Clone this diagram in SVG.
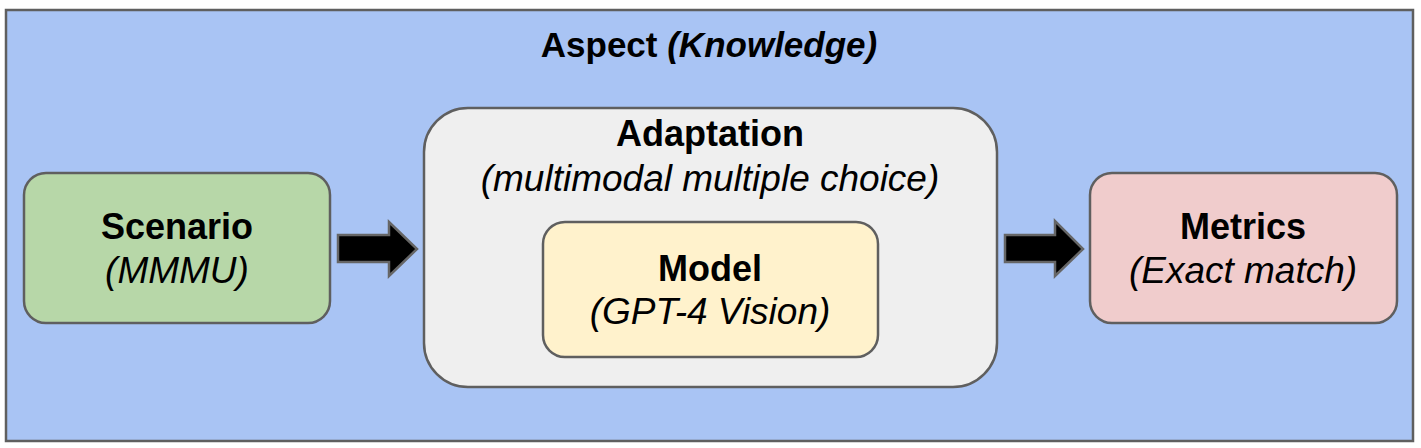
<svg xmlns="http://www.w3.org/2000/svg" width="1421" height="448" viewBox="0 0 1421 448">
<style>
.box{stroke:#5f5f5f;stroke-width:2.5}
.t{font-family:"Liberation Sans",Arial,sans-serif;fill:#000;text-anchor:middle}
.b{font-weight:bold;font-size:36px}
.i{font-style:italic;font-size:37px}
.arrow{fill:#000;stroke:#666;stroke-width:2.5;stroke-linejoin:miter}
</style>
<rect width="1421" height="448" fill="#fff"/>
<g id="aspect">
<rect class="box" x="6" y="10" width="1407" height="431" fill="#a9c4f4"/>
<text class="t" x="709" y="57" font-weight="bold" font-size="35">Aspect <tspan font-style="italic">(Knowledge)</tspan></text>
</g>
<g id="scenario">
<rect class="box" x="24" y="173" width="306" height="150" rx="22" fill="#b7d7a8"/>
<text class="t b" x="177" y="239">Scenario</text>
<text class="t i" x="177" y="283">(MMMU)</text>
</g>
<g id="adaptation">
<rect class="box" x="424" y="108" width="573" height="279" rx="44" fill="#efefef"/>
<text class="t b" x="710" y="146">Adaptation</text>
<text class="t i" x="710" y="191">(multimodal multiple choice)</text>
</g>
<g id="model">
<rect class="box" x="543" y="222" width="335" height="135" rx="22" fill="#fff2cc"/>
<text class="t b" x="710" y="281">Model</text>
<text class="t i" x="710" y="324">(GPT-4 Vision)</text>
</g>
<g id="metrics">
<rect class="box" x="1090" y="173" width="307" height="150" rx="22" fill="#f0cccc"/>
<text class="t b" x="1243" y="239">Metrics</text>
<text class="t i" x="1243" y="283">(Exact match)</text>
</g>
<g id="connectors">
<path class="arrow" d="M338,235 H389 V222 L417,249 L389,276 V262 H338 Z"/>
<path class="arrow" d="M1005,235 H1055 V221 L1083,249 L1055,276 V262 H1005 Z"/>
</g>
</svg>
